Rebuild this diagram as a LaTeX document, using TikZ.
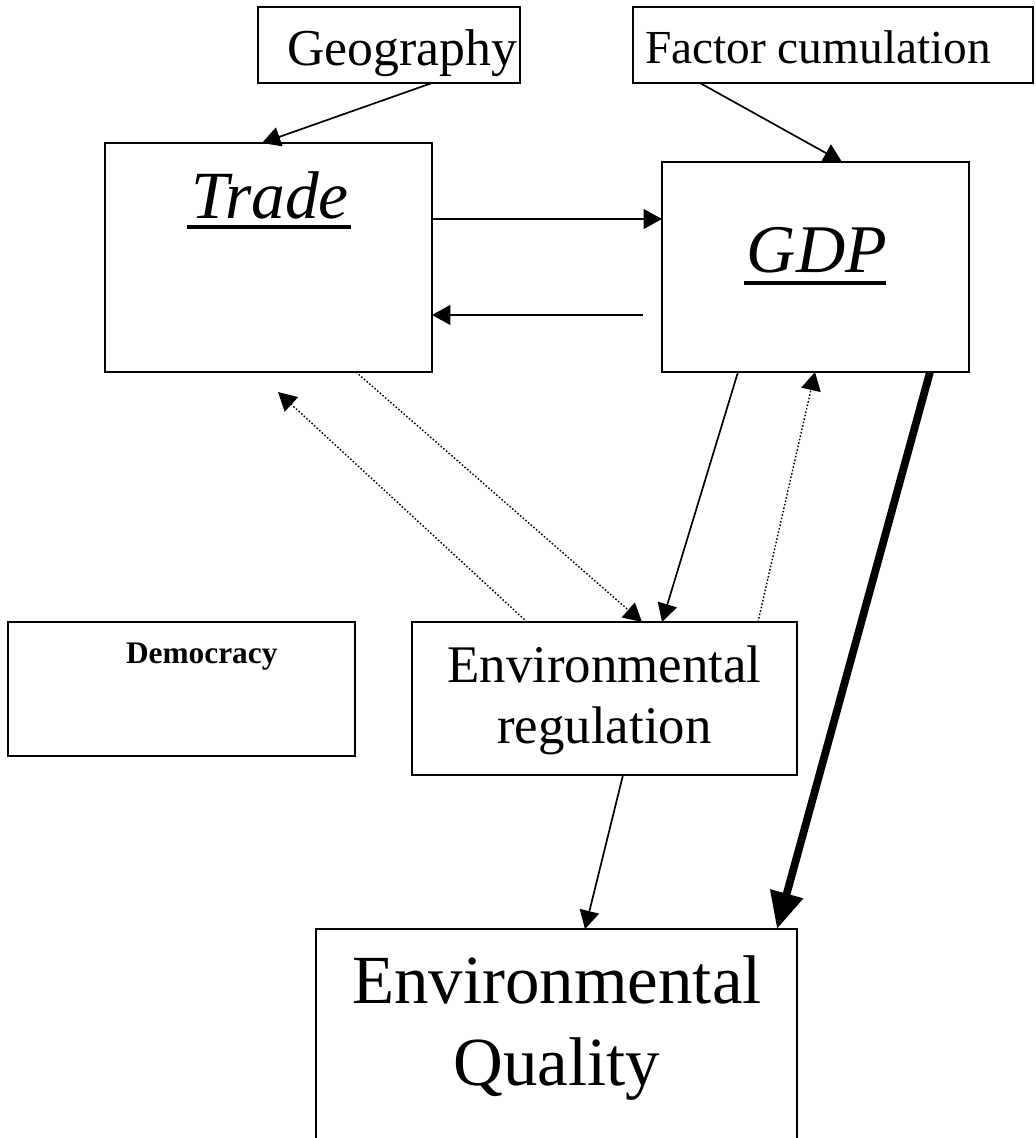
\documentclass[tikz,border=0pt]{standalone}
\usepackage{fontspec}
\setmainfont{Liberation Serif}
\usetikzlibrary{calc,arrows.meta}
\begin{document}
\begin{tikzpicture}[x=0.025cm,y=-0.025cm,
    box/.style={draw,line width=1.3pt,inner sep=0pt,outer sep=0pt},
    txt/.style={inner sep=0pt,outer sep=0pt,anchor=base},
    link/.style={line width=1.2pt,-{Triangle[length=13pt,width=14pt]}},
    weak/.style={link,line width=1pt,dash pattern=on 1.1pt off 1.4pt},
    strong/.style={line width=5.5pt,-{Triangle[length=26pt,width=23pt]}},
    uline/.style={line width=2.4pt}]
			\useasboundingbox (0,0) rectangle (1036,1138);
			\clip (0,0) rectangle (1036,1138);
			\node[box,minimum width=6.55cm,minimum height=1.9cm] at (389,45) (geo) {};
			\node[box,minimum width=10cm,minimum height=1.9cm] at (833,45) (factor) {};
			\node[box,minimum width=8.175cm,minimum height=5.725cm] at (268.5,257.5) (trade) {};
			\node[box,minimum width=7.675cm,minimum height=5.25cm] at (815.5,267) (gdp) {};
			\node[box,minimum width=8.675cm,minimum height=3.35cm] at (181.5,689) (democ) {};
			\node[box,minimum width=9.625cm,minimum height=3.825cm] at (604.5,698.5) (envreg) {};
			\node[box,minimum width=12.025cm,minimum height=5.775cm] at (556.5,1044.5) (envq) {};
			\node[txt,anchor=base west,font=\fontsize{36.8}{44}\selectfont] at (287,65) (geotxt) {Geography};
			\node[txt,anchor=base west,font=\fontsize{33.7}{40}\selectfont] at (645,63) (factortxt) {Factor cumulation};
			\node[txt,font=\fontsize{48}{56}\selectfont\itshape] at (270,218) (tradetxt) {Trade};
			\node[txt,font=\fontsize{48.5}{56}\selectfont\itshape] at (817,272) (gdptxt) {GDP};
			\node[txt,anchor=base west,font=\fontsize{22.3}{26}\selectfont\bfseries] at (126,663) (democtxt) {Democracy};
			\node[txt,align=center,font=\fontsize{37.6}{43.2}\selectfont] at (604.5,743) (envregtxt) {Environmental\\regulation};
			\node[txt,align=center,font=\fontsize{49}{58.1}\selectfont] at (557,1085) (envqtxt) {Environmental\\Quality};
			\draw[uline] ($(tradetxt.base west)+(-4,9)$)--($(tradetxt.base east)+(2,9)$);
			\draw[uline] ($(gdptxt.base west)+(-3,11)$)--($(gdptxt.base east)+(-1,11)$);
			\draw[link] ($(geo.south)+(43,0)$)--($(trade.north)+(-6.5,0)$);
			\draw[link] ($(factor.south)+(-133,0)$)--($(gdp.north)+(26.5,0)$);
			\draw[link] ($(trade.east)+(0,-38.5)$)--($(gdp.west)+(0,-48)$);
			\draw[link] ($(gdp.west)+(-19,48)$)--($(trade.east)+(0,57.5)$);
			\draw[weak] ($(trade.south)+(87.5,0)$)--($(envreg.north)+(37.5,0)$);
			\draw[weak] ($(envreg.north)+(-77.5,0)$)--($(trade.south)+(9.5,20)$);
			\draw[link] ($(gdp.south)+(-77.5,0)$)--($(envreg.north)+(57.5,0)$);
			\draw[weak] ($(envreg.north)+(153.5,0)$)--($(gdp.south)+(-0.5,0)$);
			\draw[strong] ($(gdp.south)+(114.5,0)$)--($(envq.north)+(220.5,0)$);
			\draw[link] ($(envreg.south)+(18.5,0)$)--($(envq.north)+(28.5,0)$);
		\end{tikzpicture}
\end{document}
